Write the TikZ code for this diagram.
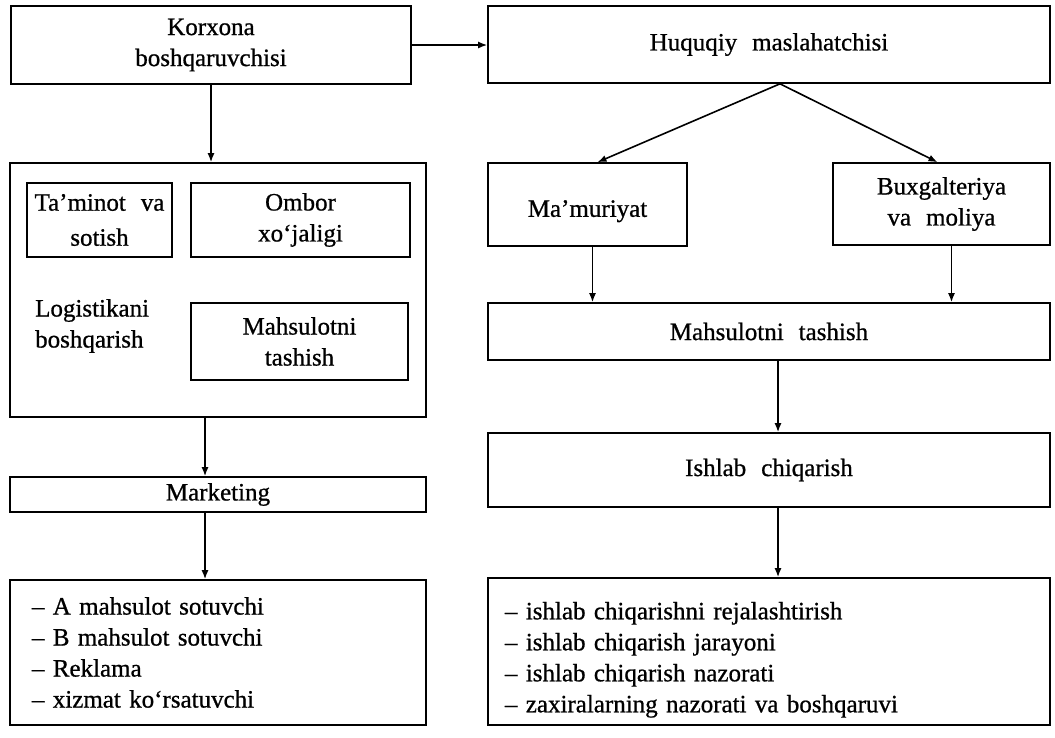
\documentclass[tikz,border=0pt]{standalone}
\usepackage{fontspec}
\setmainfont{Liberation Serif}[WordSpace=2.4,FakeBold=0.8]
\usetikzlibrary{arrows.meta}
\tikzset{
  box/.style={draw,line width=1.6pt,inner sep=0pt,align=center,
    font=\fontsize{25}{31}\selectfont},
  txt/.style={inner sep=0pt,align=left,font=\fontsize{25}{31}\selectfont},
  arr/.style={line width=1.6pt,-{Latex[length=9pt,width=7pt]}}
}
\begin{document}
\begin{tikzpicture}[x=1pt,y=-1pt]
\useasboundingbox (0,0) rectangle (1055,737);
\node[box,minimum width=400pt,minimum height=78pt] (korxona) at (211,45) {Korxona\\boshqaruvchisi};
\node[box,minimum width=562pt,minimum height=77pt] (huquq) at (769,44.5) {Huquqiy maslahatchisi};
\node[box,minimum width=416pt,minimum height=254pt] (logistika) at (218,290) {};
\node[box,minimum width=145pt,minimum height=74pt] (taminot) at (99.5,220) {Ta’minot va\\[4pt]sotish};
\node[box,minimum width=219pt,minimum height=74pt] (ombor) at (300.5,220) {Ombor\\xo‘jaligi};
\node[box,minimum width=217pt,minimum height=77pt] (tashishL) at (299.5,341.5) {Mahsulotni\\tashish};
\node[txt,anchor=west] (logtext) at (35,326) {Logistikani\\boshqarish};
\node[box,minimum width=416pt,minimum height=35pt] (marketing) at (218,494.5) {Marketing};
\node[box,minimum width=416pt,minimum height=145pt,text width=372pt,align=left] (marklist) at (218,652.5)
  {– A mahsulot sotuvchi\\– B mahsulot sotuvchi\\– Reklama\\– xizmat ko‘rsatuvchi};
\node[box,minimum width=199pt,minimum height=83pt] (mamur) at (587.5,204.5) {\rule{0pt}{30pt}Ma’muriyat};
\node[box,minimum width=217pt,minimum height=82pt] (buxgal) at (941.5,204) {Buxgalteriya\\va moliya};
\node[box,minimum width=562pt,minimum height=57pt] (tashish) at (769,331.5) {Mahsulotni tashish};
\node[box,minimum width=562pt,minimum height=74pt] (ishlab) at (769,470) {Ishlab chiqarish};
\node[box,minimum width=562pt,minimum height=147pt,text width=528pt,align=left] (ishlist) at (769,651.5)
  {\rule{0pt}{34pt}– ishlab chiqarishni rejalashtirish\\– ishlab chiqarish jarayoni\\– ishlab chiqarish nazorati\\– zaxiralarning nazorati va boshqaruvi};
\draw[arr] (korxona.east) -- (korxona.east -| huquq.west);
\draw[arr] (korxona.south) -- (korxona.south |- logistika.north);
\draw[arr] ([xshift=-13pt]logistika.south) -- ([xshift=-13pt]marketing.north);
\draw[arr] ([xshift=-13pt]marketing.south) -- ([xshift=-13pt]marklist.north);
\draw[arr] ([xshift=11pt]huquq.south) -- ([xshift=10pt]mamur.north);
\draw[arr] ([xshift=11pt]huquq.south) -- ([xshift=-4pt]buxgal.north);
\draw[arr] ([xshift=5pt]mamur.south) -- ([xshift=5pt]mamur.south |- tashish.north);
\draw[arr] ([xshift=10pt]buxgal.south) -- ([xshift=10pt]buxgal.south |- tashish.north);
\draw[arr] ([xshift=9pt]tashish.south) -- ([xshift=9pt]ishlab.north);
\draw[arr] ([xshift=9pt]ishlab.south) -- ([xshift=9pt]ishlist.north);
\end{tikzpicture}
\end{document}
